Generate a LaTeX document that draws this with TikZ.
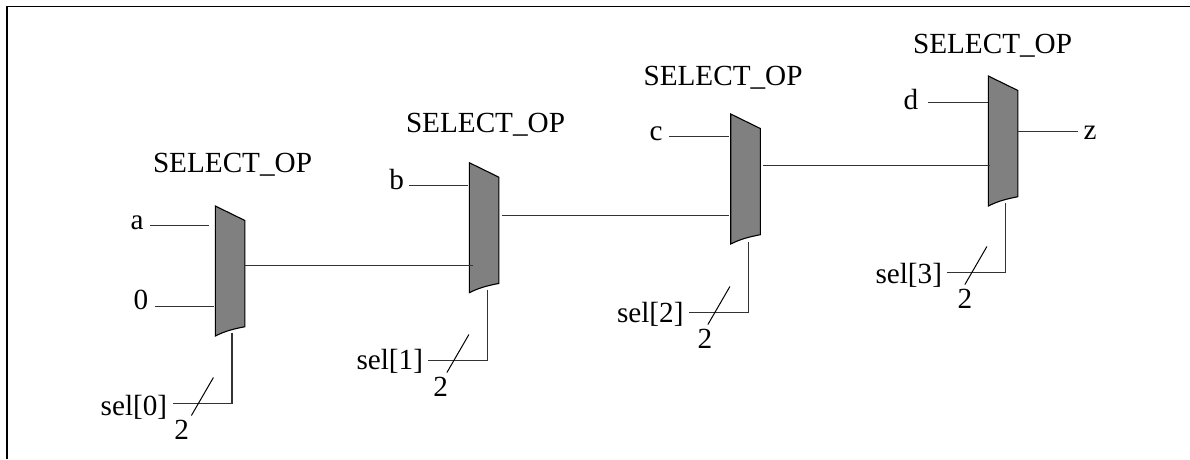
\documentclass[tikz,border=0pt]{standalone}
\usepackage{fontspec}
\setmainfont{Liberation Serif}
\tikzset{
  muxbody/.style={draw=black,fill=black!50,line width=1.1pt,line join=miter},
  wire/.style={draw=black!80,line width=1.1pt},
  tick/.style={draw=black,line width=1pt},
  lbl/.style={inner sep=0pt,outer sep=0pt,anchor=base,font=\fontsize{29.2}{32}\selectfont,text=black}
}
% \muxcell{name}{x}{y}: x,y = top-left corner of the body
\newcommand{\muxcell}[3]{%
  \coordinate (#1tl) at (#2,#3);
  \coordinate (#1tr) at (#2+29.6,#3+14.5);
  \coordinate (#1br) at (#2+29.6,#3+120.7);
  \coordinate (#1bl) at (#2,#3+130);
  \draw[muxbody] (#1tl) -- (#1tr) -- (#1br)
     .. controls (#2+18,#3+123) and (#2+10,#3+125) .. (#1bl) -- cycle;
}
% \selbus{name}{x}{ytop}{digit}{ywire}{label right}{wire left}{label baseline}{2 x}{2 baseline}
\newcommand{\selbus}[9]{%
  \node[lbl,anchor=base east] (#1s) at (#6,#8) {sel[#4]};
  \coordinate (#1st) at (#2,#3);
  \coordinate (#1sc) at (#2,#5);
  \coordinate (#1sl) at (#7,#5);
  \draw[wire] (#1st) -- (#1sc) -- (#1sl);
  \coordinate (#1ka) at (#2-18.6,#5-26);
  \coordinate (#1kb) at (#2-40.6,#5+12);
  \draw[tick] (#1ka) -- (#1kb);
  \node[lbl] (#1n) at (#9,#5+36) {2};
}
\begin{document}
\begin{tikzpicture}[x=1pt,y=-1pt]
\useasboundingbox (0,0) rectangle (1190,459);
\coordinate (f1) at (7.3,459);
\coordinate (f2) at (7.3,6.6);
\coordinate (f3) at (1190,6.6);
\draw[black,line width=1.7pt] (f1) -- (f2) -- (f3);

\muxcell{m0}{215.3}{206}
\muxcell{m1}{469.3}{162.7}
\muxcell{m2}{730.7}{114}
\muxcell{m3}{988.3}{76}

\node[lbl] (t0) at (232.5,172) {SELECT\_OP};
\node[lbl] (t1) at (485.5,132.5) {SELECT\_OP};
\node[lbl] (t2) at (723,85) {SELECT\_OP};
\node[lbl] (t3) at (992.5,53) {SELECT\_OP};

\node[lbl] (a) at (137,229) {a};
\node[lbl] (zero) at (141,309) {0};
\node[lbl] (b) at (396.7,189) {b};
\node[lbl] (c) at (656,140) {c};
\node[lbl] (d) at (911,109) {d};
\node[lbl] (z) at (1090,139) {z};

\coordinate (ae) at (150,225.5); \coordinate (am) at (209,225.5);
\coordinate (ze) at (154.7,306.5); \coordinate (zm) at (213.5,306.5);
\coordinate (be) at (409,185.5); \coordinate (bm) at (468,185.5);
\coordinate (ce) at (669,136.5); \coordinate (cm) at (729,136.5);
\coordinate (de) at (928.3,102.5); \coordinate (dm) at (988,102.5);
\coordinate (zs) at (1018.3,131.5); \coordinate (zt) at (1077.7,131.5);
\coordinate (o0) at (245,265.5); \coordinate (i1) at (472.7,265.5);
\coordinate (o1) at (502.3,215.5); \coordinate (i2) at (729,215.5);
\coordinate (o2) at (762.7,165.5); \coordinate (i3) at (990,165.5);
\draw[wire] (ae) -- (am);
\draw[wire] (ze) -- (zm);
\draw[wire] (be) -- (bm);
\draw[wire] (ce) -- (cm);
\draw[wire] (de) -- (dm);
\draw[wire] (zs) -- (zt);
\draw[wire] (o0) -- (i1);
\draw[wire] (o1) -- (i2);
\draw[wire] (o2) -- (i3);

\selbus{m0}{232}{333}{0}{403.5}{167.2}{173.3}{415.5}{181.7}
\selbus{m1}{487.5}{289.5}{1}{360.5}{423}{427.7}{369.5}{440.7}
\selbus{m2}{748.5}{241.5}{2}{312.5}{683.5}{689.3}{322}{705}
\selbus{m3}{1005.5}{202.5}{3}{272.5}{942}{946.7}{283}{965}
\end{tikzpicture}
\end{document}
